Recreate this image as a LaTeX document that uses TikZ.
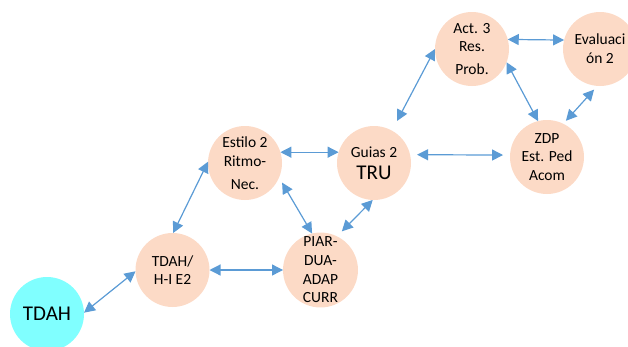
\documentclass[tikz,border=0pt]{standalone}
\usepackage{fontspec}
\setmainfont{Carlito}
\usetikzlibrary{arrows.meta}
\definecolor{peach}{HTML}{FCDAC6}
\definecolor{aqua}{HTML}{80FFFF}
\definecolor{arrowblue}{HTML}{5B9BD5}
\begin{document}
\begin{tikzpicture}[x=1pt,y=-1pt,
  bub/.style={circle,fill=peach,minimum size=74pt,inner sep=0pt,outer sep=0pt,align=center,font=\fontsize{15.5}{18.7}\selectfont},
  bigbub/.style={circle,fill=aqua,minimum size=74pt,inner sep=0pt,outer sep=0pt,font=\fontsize{21}{25}\selectfont},
  link/.style={draw=arrowblue,line width=1.2pt,{Triangle[length=11pt,width=11pt]}-{Triangle[length=11pt,width=11pt]}}]
\useasboundingbox (0,0) rectangle (628,346);
\clip (0,0) rectangle (628,346);
\node[bigbub] (tdah) at (47,314) {TDAH};
\node[bub] (hie) at (172.5,270) {TDAH/\\H-I E2};
\node[bub] (piar) at (320.5,270) {PIAR-\\DUA-\\ADAP\\CURR};
\node[bub] (est) at (245,163) {Estilo 2\\Ritmo-\\[4.5pt]Nec.};
\node[bub] (gui) at (374,163) {Guias 2\\[3.3pt]{\fontsize{21}{25}\selectfont TRU}};
\node[bub] (act) at (472,49) {Act. 3\\Res.\\[4pt]Prob.};
\node[bub] (eva) at (600,49) {Evaluaci\\ón 2};
\node[bub] (zdp) at (547,157) {ZDP\\Est. Ped\\Acom};
\draw[link] (tdah.2) -- (hie.182);
\draw[link] (hie.east) -- (piar.west);
\draw[link] (hie.89) -- (est.178);
\draw[link] (est.17) -- (gui.163);
\draw[link, shorten <=6pt] (est.-23) -- (piar.103);
\draw[link, shorten <=7pt] (piar.64) -- (gui.268);
\draw[link, shorten <=11pt] (gui.61) -- (act.180);
\draw[link, shorten <=7pt, shorten >=7pt] (gui.13) -- (zdp.177);
\draw[link] (act.15) -- (eva.166);
\draw[link] (act.-21) -- (zdp.104);
\draw[link, shorten <=4pt, shorten >=5pt] (zdp.64) -- (eva.266);
\end{tikzpicture}
\end{document}
